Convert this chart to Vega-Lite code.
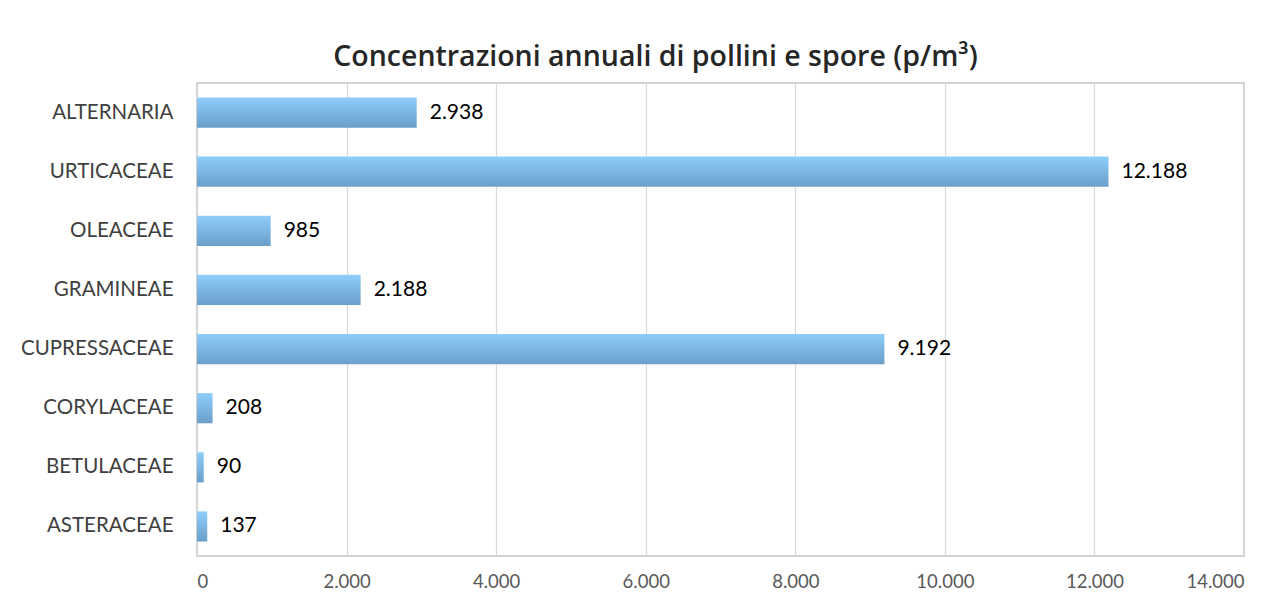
{
  "$schema": "https://vega.github.io/schema/vega-lite/v6.json",
  "width": 1047,
  "height": 473,
  "autosize": "none",
  "padding": {"left": 197, "top": 83, "right": 43, "bottom": 49},
  "background": "white",
  "title": {
    "text": "Concentrazioni annuali di pollini e spore (p/m³)",
    "font": "Open Sans",
    "fontSize": 28.5,
    "fontWeight": 600,
    "color": "#262626",
    "anchor": "middle",
    "frame": "group",
    "dx": -65,
    "offset": 12
  },
  "config": {
    "locale": {"number": {"decimal": ",", "thousands": ".", "grouping": [3], "currency": ["€", ""]}},
    "view": {"stroke": "#c4c4c4", "strokeWidth": 1.5},
    "font": "Lato"
  },
  "data": {
    "values": [
      {"taxon": "ALTERNARIA", "value": 2938},
      {"taxon": "URTICACEAE", "value": 12188},
      {"taxon": "OLEACEAE", "value": 985},
      {"taxon": "GRAMINEAE", "value": 2188},
      {"taxon": "CUPRESSACEAE", "value": 9192},
      {"taxon": "CORYLACEAE", "value": 208},
      {"taxon": "BETULACEAE", "value": 90},
      {"taxon": "ASTERACEAE", "value": 137}
    ]
  },
  "encoding": {
    "y": {
      "field": "taxon",
      "type": "nominal",
      "sort": null,
      "title": null,
      "scale": {"paddingInner": 0.49, "paddingOuter": 0.245},
      "axis": {
        "domain": false,
        "ticks": false,
        "labelFont": "Lato",
        "labelFontSize": 20.5,
        "labelColor": "#404040",
        "labelPadding": 24
      }
    },
    "x": {
      "field": "value",
      "type": "quantitative",
      "title": null,
      "scale": {"domain": [0, 14000], "nice": false},
      "axis": {
        "values": [0, 2000, 4000, 6000, 8000, 10000, 12000, 14000],
        "format": ",d",
        "domain": false,
        "ticks": false,
        "grid": true,
        "gridColor": "#d9d9d9",
        "gridWidth": 1.2,
        "labelFont": "Lato",
        "labelFontSize": 18.5,
        "labelColor": "#595959",
        "labelPadding": 16
      }
    }
  },
  "layer": [
    {
      "mark": {
        "type": "bar",
        "color": {
          "gradient": "linear",
          "x1": 0, "y1": 0, "x2": 0, "y2": 1,
          "stops": [
            {"offset": 0, "color": "#8fcdfa"},
            {"offset": 1, "color": "#6a9fca"}
          ]
        }
      }
    },
    {
      "mark": {"type": "text", "align": "left", "dx": 13, "fontSize": 21, "font": "Lato", "color": "#000000"},
      "encoding": {
        "text": {"field": "value", "type": "quantitative", "format": ",d"}
      }
    }
  ]
}
